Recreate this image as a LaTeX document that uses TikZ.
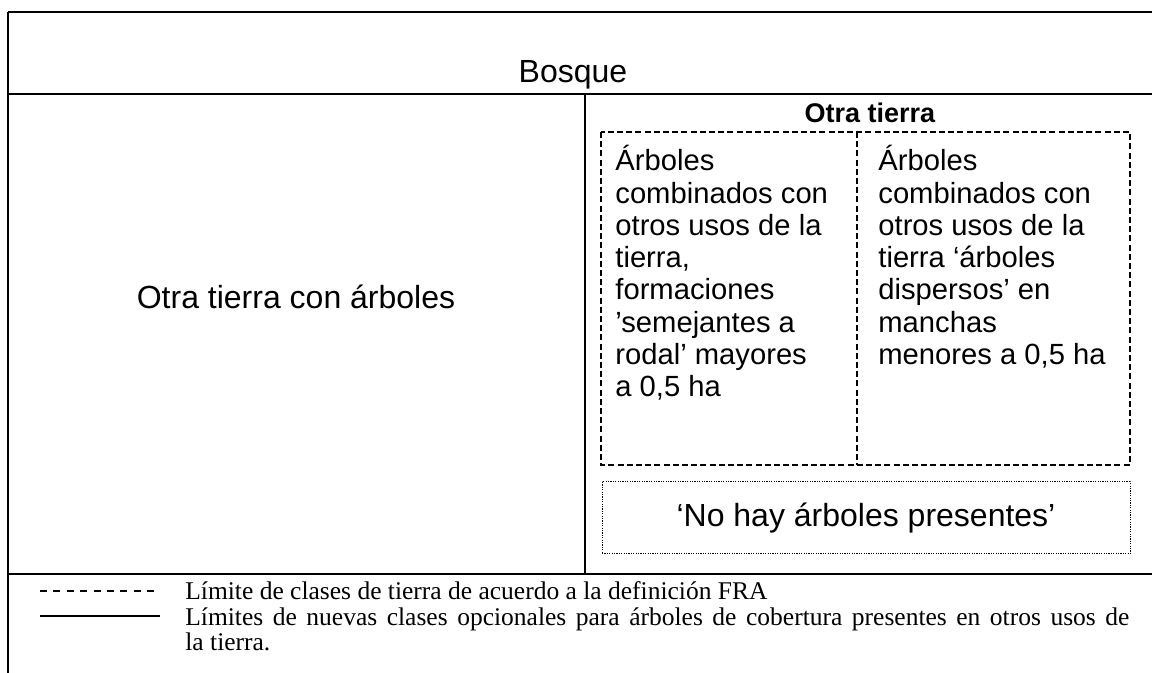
\documentclass[tikz,border=0pt]{standalone}
\usepackage{fontspec}
\setmainfont{Liberation Sans}
\newfontfamily\legendfont{Liberation Serif}
\usetikzlibrary{positioning}

\begin{document}
\begin{tikzpicture}[x=0.5pt, y=-0.5pt, node distance = 0pt,
FrameLine/.style={line width=1.3pt},
ClassLine/.style={line width=0.7pt, dash pattern=on 3pt off 1.6pt},
NoTreeLine/.style={line width=0.5pt, dash pattern=on 0.6pt off 0.6pt},
LabelStyle/.style={font=\fontsize{16}{19}\selectfont, inner sep=0pt},
ColumnStyle/.style={font=\fontsize{14.6}{16.15}\selectfont, align=left,
                anchor=north west, inner sep=0pt},
LegendStyle/.style={font=\legendfont\fontsize{12.75}{12.5}\selectfont,
                anchor=base west, inner sep=0pt},]
\useasboundingbox (0,0) rectangle (1152,673);
% frame
\coordinate (tl) at (8,12);
\coordinate (tr) at (1152,12);
\coordinate (ml) at (8,94);
\coordinate (mr) at (1152,94);
\coordinate (bl) at (8,574);
\coordinate (br) at (1152,574);
\coordinate (ll) at (8,673);
\coordinate (dt) at (585,94);
\coordinate (db) at (585,574);
\draw [FrameLine] (tl) -- (tr) (ml) -- (mr) (bl) -- (br) (tl) -- (ll) (dt) -- (db);
% land classes
\draw [ClassLine] (601,132) rectangle (1130,465);
\draw [ClassLine] (857,132) -- (857,465);
\draw [NoTreeLine] (602,482) rectangle (1130,554);
\node [LabelStyle] (bosque) at (573,75) {Bosque};
\node [LabelStyle] (otraarb) at (296,297) {Otra tierra con árboles};
\node [font=\bfseries\fontsize{13.5}{16}\selectfont, inner sep=0pt] (otra) at (870,113) {Otra tierra};
\node [ColumnStyle] (combinados) at (615,145) {Árboles\\combinados con\\otros usos de la\\tierra,\\formaciones\\’semejantes a\\rodal’ mayores\\a 0,5 ha};
\node [ColumnStyle] (dispersos) at (878,145) {Árboles\\combinados con\\otros usos de la\\tierra ‘árboles\\dispersos’ en\\manchas\\menores a 0,5 ha};
\node [LabelStyle] (noarb) at (866,518) {‘No hay árboles presentes’};
% legend
\coordinate (da) at (40,591);
\coordinate (db2) at (155,591);
\coordinate (sa) at (40,616);
\coordinate (sb) at (160,616);
\draw [line width=0.6pt, dash pattern=on 3.5pt off 3.2pt] (da) -- (db2);
\draw [line width=0.8pt] (sa) -- (sb);
\node [LegendStyle] (leg1) at (185,600) {Límite de clases de tierra de acuerdo a la definición FRA};
\node [LegendStyle] (leg2) at (185,625) {\makebox[472pt][s]{Límites de nuevas clases opcionales para árboles de cobertura presentes en otros usos de}};
\node [LegendStyle] (leg3) at (185,650) {la tierra.};
\end{tikzpicture}
\end{document}
